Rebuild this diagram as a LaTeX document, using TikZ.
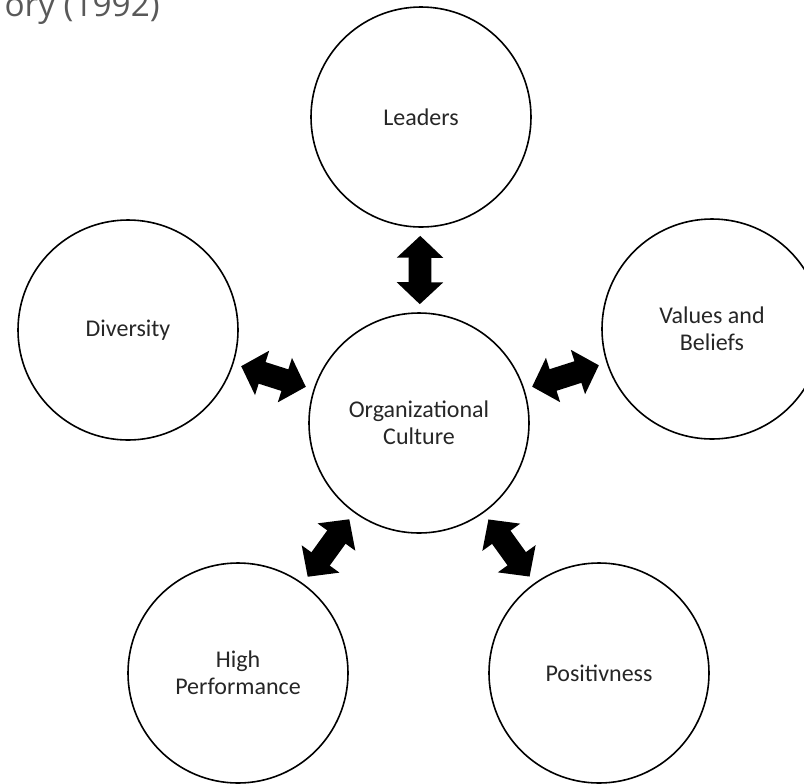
\documentclass[tikz,border=0pt]{standalone}
\usepackage{fontspec}
\setmainfont{Carlito}
\newfontfamily\headfont{Open Sans}
\usetikzlibrary{arrows.meta}

\begin{document}
\begin{tikzpicture}[x=0.75pt,y=-0.75pt,
    factor/.style={circle,draw=black,line width=1.2pt,minimum size=165pt,
      inner sep=0pt,align=center,text=black!85,
      font=\fontsize{18}{20.5}\selectfont},
    link/.style={line width=17pt,
      {Triangle[width=34pt,length=16.5pt]}-{Triangle[width=34pt,length=16.5pt]},
      shorten <=6pt,shorten >=6pt}]
  \clip (0,0) rectangle (804,783);

  % heading, cut by the page edge
  \node[anchor=base east,inner sep=0pt,text=black!65,
    font=\headfont\fontsize{25}{29}\selectfont] (title) at (160,16) {ory (1992)};

  % the five circles round the middle one
  \node[factor] (culture) at (419,423) {Organizational\\Culture};
  \node[factor] (leaders) at (421,117) {Leaders};
  \node[factor] (diversity) at (128,330) {Diversity};
  \node[factor] (values) at (712,329) {Values and\\Beliefs};
  \node[factor] (perf) at (238,673) {High\\Performance};
  \node[factor] (posit) at (599,673) {Positivness};

  % two-way block arrows
  \draw[link] (culture) -- (leaders);
  \draw[link] (culture) -- (diversity);
  \draw[link] (culture) -- (values);
  \draw[link] (culture) -- (perf);
  \draw[link] (culture) -- (posit);
\end{tikzpicture}
\end{document}
